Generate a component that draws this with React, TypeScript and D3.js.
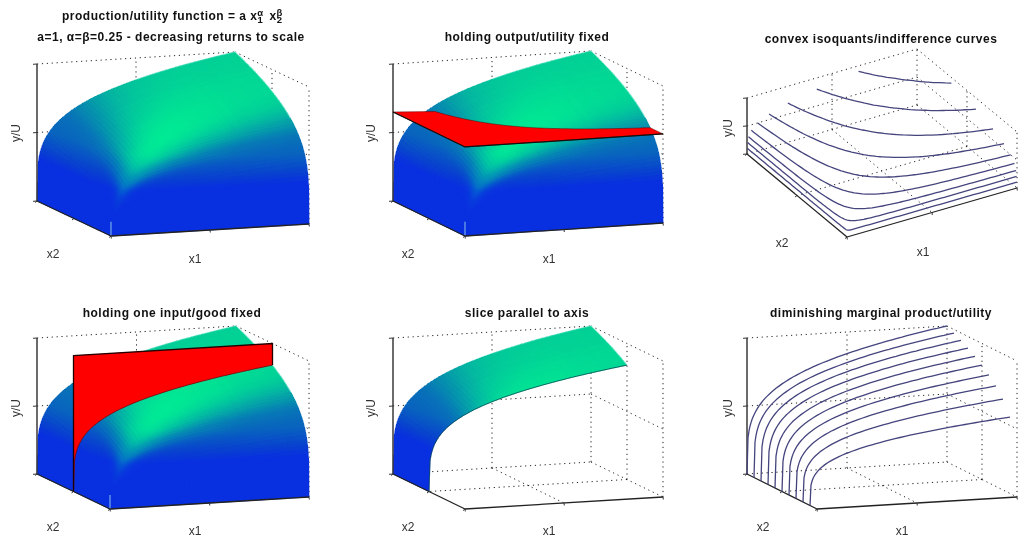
import React from "react";
import * as d3 from "d3";

// Grid of input levels (fraction of axis range), finer near zero where the surface is steep
const inputGrid = [0,.005,.01,.015,.02,.025,.03,.04,.05,.06,.07,.08,.09,.1,.115,.13,.145,.16,.175,.19,.21,.23,.25,.27,.29,.31,.33,.35,.375,.4,.425,.45,.475,.5,.525,.55,.575,.6,.625,.65,.675,.7,.725,.75,.775,.8,.825,.85,.875,.9,.925,.95,.975,1];
// Height profile along one input at full level of the other, read from the surface's edges
const edgeProfile = [0,.266,.316,.35,.376,.398,.416,.447,.473,.495,.514,.532,.548,.562,.582,.6,.617,.632,.647,.66,.677,.693,.707,.721,.734,.746,.758,.769,.783,.795,.807,.819,.83,.841,.851,.861,.871,.88,.889,.898,.906,.915,.923,.931,.938,.946,.953,.96,.967,.974,.981,.987,.994,1];
const isoLevels = [.1,.2,.3,.4,.5,.6,.7,.8,.9];
const sliceLevels = [.1,.2,.3,.4,.5,.6,.7,.8,.9,1];
const fixedOutput = 0.65;
const fixedInput = 0.5;
const ticks = [0, .5, 1];

const titles = ["holding output/utility fixed","convex isoquants/indifference curves","holding one input/good fixed","slice parallel to axis","diminishing marginal product/utility"];

type Pt = [number, number];
interface Box { A: Pt; B: Pt; C: Pt; H: number; }
const boxes: Record<string, Box> = {
  p1: { A: [111,236], B: [309,224], C: [37,201], H: 137 },
  p2: { A: [465,236], B: [663,223], C: [393,201], H: 137 },
  p3: { A: [847,237], B: [1017,188], C: [747,154], H: 56 },
  p4: { A: [110,509], B: [309,497], C: [37,474], H: 136 },
  p5: { A: [465,509], B: [663,497], C: [393,474], H: 136 },
  p6: { A: [817,509], B: [1017,497], C: [747,474], H: 136 },
};

const greenScale = d3.scaleLinear([0,.3,.37,.5,1],[47,47,64,100,135]);
const blueScale = d3.scaleLinear([0,.3,.37,.5,1],[224,224,208,190,170]);
const lightDir = [-.42,-.48,1];
const lightLen = Math.hypot(lightDir[0],lightDir[1],lightDir[2]);
const invProfile = d3.scaleLinear(edgeProfile, inputGrid).clamp(true);
const profileAt = d3.scaleLinear(inputGrid, edgeProfile);
const last = inputGrid.length-1;

function quadColor(i:number,j:number){
  const h=(a:number,b:number)=>edgeProfile[a]*edgeProfile[b];
  const w=(h(i,j)+h(i+1,j)+h(i,j+1)+h(i+1,j+1))/4;
  const i0=Math.max(1,i-2),i1=Math.min(last,i+3),j0=Math.max(1,j-2),j1=Math.min(last,j+3);
  const lowU=i===0, lowV=j===0;
  const dpu=lowU?(edgeProfile[1]/inputGrid[1]):(edgeProfile[i1]-edgeProfile[i0])/(inputGrid[i1]-inputGrid[i0]);
  const dpv=lowV?(edgeProfile[1]/inputGrid[1]):(edgeProfile[j1]-edgeProfile[j0])/(inputGrid[j1]-inputGrid[j0]);
  const dwu=dpu*(edgeProfile[j]+edgeProfile[j+1])/2;
  const dwv=dpv*(edgeProfile[i]+edgeProfile[i+1])/2;
  const s=(-dwu*lightDir[0]-dwv*lightDir[1]+lightDir[2])/(Math.hypot(dwu,dwv,1)*lightLen);
  const glow=Math.pow(Math.max(0,s),22);
  const boost=glow*Math.min(1,w/.25);
  const g=Math.min(255,greenScale(w)+128*boost);
  const b=blueScale(w)-38*boost;
  return `rgb(${Math.round(8*(1-boost))},${Math.round(g)},${Math.round(b)})`;
}

function projector(b: Box) {
  const ux = d3.scaleLinear([0,1],[0,b.B[0]-b.A[0]]);
  const uy = d3.scaleLinear([0,1],[0,b.B[1]-b.A[1]]);
  const vx = d3.scaleLinear([0,1],[0,b.C[0]-b.A[0]]);
  const vy = d3.scaleLinear([0,1],[0,b.C[1]-b.A[1]]);
  const wy = d3.scaleLinear([0,1],[0,-b.H]);
  return (u:number,v:number,w:number):Pt => [b.A[0]+ux(u)+vx(v), b.A[1]+uy(u)+vy(v)+wy(w)];
}

function Surface({box,minV=0}:{box:Box;minV?:number}){
  const P=projector(box);
  const n=last;
  const cells:React.ReactNode[]=[];
  const h=(a:number,b:number)=>edgeProfile[a]*edgeProfile[b];
  const line=d3.line();
  for(let i=n-1;i>=0;i--) for(let j=n-1;j>=0;j--){
    if(inputGrid[j]<minV) continue;
    const pts=[P(inputGrid[i],inputGrid[j],h(i,j)),P(inputGrid[i+1],inputGrid[j],h(i+1,j)),P(inputGrid[i+1],inputGrid[j+1],h(i+1,j+1)),P(inputGrid[i],inputGrid[j+1],h(i,j+1))];
    const c=quadColor(i,j);
    cells.push(<path key={i+"-"+j} d={line(pts)+"Z"} fill={c} stroke={c} strokeWidth={.7} strokeLinejoin="round"/>);
  }
  const rimU=inputGrid.filter(v=>v>=Math.max(minV,.25)).map(v=>P(1,v,profileAt(v)));
  const rimV=inputGrid.filter(u=>u>=.5).map(u=>P(u,1,profileAt(u)));
  return <g>
    <g shapeRendering="crispEdges">{cells}</g>
    <path d={line(rimU)!} fill="none" stroke="#a8f0e4" strokeWidth={1} opacity={.75}/>
    <path d={line(rimV)!} fill="none" stroke="#8fe8dc" strokeWidth={.8} opacity={.45}/>
    {minV===0 && <path d={line([P(0,0,0),P(.004,.011,.1)])!} fill="none" stroke="#7fb4ea" strokeWidth={1.3} opacity={.85}/>}
  </g>;
}

function Frame({box}:{box:Box}){
  const P=projector(box);
  const dots=(a:Pt,b:Pt,k:string)=><line key={k} x1={a[0]} y1={a[1]} x2={b[0]} y2={b[1]} stroke="#222" strokeWidth={1} strokeDasharray="1.2 3.7"/>;
  const out:React.ReactNode[]=[];
  ticks.forEach(t=>{
    out.push(dots(P(0,1,t),P(1,1,t),"a"+t));
    out.push(dots(P(1,1,t),P(1,0,t),"b"+t));
  });
  [.5,1].forEach(t=>out.push(dots(P(t,1,0),P(t,1,1),"c"+t)));
  [.5,0].forEach(t=>out.push(dots(P(1,t,0),P(1,t,1),"d"+t)));
  out.push(dots(P(.5,1,0),P(.5,0,0),"e"));
  out.push(dots(P(1,.5,0),P(0,.5,0),"f"));
  return <g>{out}</g>;
}

function Axes({box}:{box:Box}){
  const P=projector(box);
  const seg=(a:Pt,b:Pt,k:string,w=1.4,c="#222")=><line key={k} x1={a[0]} y1={a[1]} x2={b[0]} y2={b[1]} stroke={c} strokeWidth={w}/>;
  const out:React.ReactNode[]=[];
  out.push(seg(P(0,1,0),P(0,1,1),"z",1.5,"#3a3a3a"));
  out.push(seg(P(0,1,0),P(0,0,0),"v",1.3));
  out.push(seg(P(0,0,0),P(1,0,0),"u",1.3));
  ticks.forEach(t=>{
    const a=P(0,1,t);
    out.push(seg(a,[a[0]-4,a[1]+.3],"tz"+t,1,"#333"));
    const b=P(t,0,0);
    out.push(seg(b,[b[0]+.3,b[1]+2.5],"tu"+t,1,"#333"));
    const c=P(0,t,0);
    out.push(seg(c,[c[0]-2,c[1]+1.5],"tv"+t,1,"#333"));
  });
  return <g>{out}</g>;
}

function Labels({x1,x2,yu}:{x1:Pt;x2:Pt;yu:Pt}){
  const st:React.CSSProperties={fontFamily:"'Liberation Sans',sans-serif",fontSize:12,fill:"#333"};
  return <g style={st} textAnchor="middle" dominantBaseline="central">
    <text x={x1[0]} y={x1[1]}>x1</text>
    <text x={x2[0]} y={x2[1]}>x2</text>
    <text transform={`translate(${yu[0]},${yu[1]}) rotate(-90)`}>y/U</text>
  </g>;
}

const titleStyle:React.CSSProperties={fontFamily:"'Liberation Sans',sans-serif",fontSize:12,fontWeight:700,fill:"#111",letterSpacing:".5px"};
function Title({x,y,children}:{x:number;y:number;children:React.ReactNode}){
  return <text x={x} y={y} textAnchor="middle" dominantBaseline="central" style={titleStyle}>{children}</text>;
}

function RedPlane({box}:{box:Box}){
  const P=projector(box);
  const line=d3.line();
  const curve:Pt[]=[];
  inputGrid.forEach((u,i)=>{ const q=fixedOutput/edgeProfile[i]; if(edgeProfile[i]>=fixedOutput) curve.push(P(u,invProfile(q),fixedOutput)); });
  const pts:Pt[]=[P(0,1,fixedOutput),P(0,0,fixedOutput),P(1,0,fixedOutput),...curve.slice().reverse()];
  return <g>
    <path d={line(pts)+"Z"} fill="#fe0000" stroke="#5a0000" strokeWidth={.5}/>
    <path d={line([P(0,1,fixedOutput),P(0,0,fixedOutput),P(1,0,fixedOutput)])!} fill="none" stroke="#111" strokeWidth={1.2}/>
  </g>;
}

function RedWall({box}:{box:Box}){
  const P=projector(box);
  const line=d3.line();
  const pv=profileAt(fixedInput);
  const curve:Pt[]=inputGrid.map((u,i)=>P(u,fixedInput,edgeProfile[i]*pv));
  const pts:Pt[]=[...curve,P(1,fixedInput,1),P(0,fixedInput,1)];
  return <g>
    <path d={line(pts)+"Z"} fill="#fe0000"/>
    <path d={line(curve)!} fill="none" stroke="#7a0a10" strokeWidth={.9}/>
    <path d={line([P(0,fixedInput,0),P(0,fixedInput,1),P(1,fixedInput,1),curve[curve.length-1]])!} fill="none" stroke="#220000" strokeWidth={1.3}/>
  </g>;
}

function Isoquants({box}:{box:Box}){
  const P=projector(box);
  const line=d3.line();
  return <g fill="none" stroke="#45457e" strokeWidth={1.3}>
    {isoLevels.map(L=>{
      const raw:[number,number][]=[];
      inputGrid.forEach((t,i)=>{ if(edgeProfile[i]>=L && edgeProfile[i]>0){ raw.push([t,invProfile(L/edgeProfile[i])]); raw.push([invProfile(L/edgeProfile[i]),t]); }});
      raw.sort((a,b)=>a[0]-b[0]);
      return <path key={L} d={line(raw.map(r=>P(r[0],r[1],L)))!}/>;
    })}
  </g>;
}

function Slices({box}:{box:Box}){
  const P=projector(box);
  const line=d3.line();
  return <g fill="none" stroke="#45457e" strokeWidth={1.3}>
    {sliceLevels.map(v=>{
      const pv=profileAt(v);
      return <path key={v} d={line(inputGrid.map((u,i)=>P(u,v,edgeProfile[i]*pv)))!}/>;
    })}
  </g>;
}

function StripEdge({box}:{box:Box}){
  const P=projector(box);
  const line=d3.line();
  const pv=profileAt(fixedInput);
  return <path d={line(inputGrid.map((u,i)=>P(u,fixedInput,edgeProfile[i]*pv)))!} fill="none" stroke="#0a4a55" strokeWidth={.8}/>;
}

export default function App(){
  const sup:React.CSSProperties={fontSize:9.5};
  return <svg width={1024} height={538} style={{position:"fixed",left:0,top:0,background:"#fff",display:"block"}}>
    <g style={{filter:"blur(.45px)"}}>
    <text x={62} y={16} dominantBaseline="central" style={titleStyle}>production/utility function = a x<tspan style={sup} dy={3}>1</tspan><tspan style={sup} dx={-6} dy={-7.5}>α</tspan><tspan dy={4.5} dx={2}> x</tspan><tspan style={sup} dy={3}>2</tspan><tspan style={sup} dx={-6} dy={-7.5}>β</tspan></text>
    <Title x={171} y={37}>a=1, α=β=0.25 - decreasing returns to scale</Title>
    <Title x={527} y={37}>{titles[0]}</Title>
    <Title x={881} y={39}>{titles[1]}</Title>
    <Title x={172} y={313}>{titles[2]}</Title>
    <Title x={527} y={313}>{titles[3]}</Title>
    <Title x={881} y={313}>{titles[4]}</Title>

    <Frame box={boxes.p1}/><Surface box={boxes.p1}/><Axes box={boxes.p1}/>
    <Frame box={boxes.p2}/><Surface box={boxes.p2}/><Axes box={boxes.p2}/><RedPlane box={boxes.p2}/>
    <Frame box={boxes.p3}/><Axes box={boxes.p3}/><Isoquants box={boxes.p3}/>
    <Frame box={boxes.p4}/><Surface box={boxes.p4}/><Axes box={boxes.p4}/><RedWall box={boxes.p4}/>
    <Frame box={boxes.p5}/><Surface box={boxes.p5} minV={fixedInput}/><Axes box={boxes.p5}/><StripEdge box={boxes.p5}/>
    <Frame box={boxes.p6}/><Axes box={boxes.p6}/><Slices box={boxes.p6}/>

    <Labels x1={[195,259]} x2={[53,254]} yu={[16,133]}/>
    <Labels x1={[549,259]} x2={[408,254]} yu={[371,133]}/>
    <Labels x1={[923,252]} x2={[782,243]} yu={[728,128]}/>
    <Labels x1={[195,531]} x2={[53,527]} yu={[16,408]}/>
    <Labels x1={[549,531]} x2={[408,527]} yu={[371,408]}/>
    <Labels x1={[902,531]} x2={[763,527]} yu={[728,408]}/>
    </g>
  </svg>;
}
